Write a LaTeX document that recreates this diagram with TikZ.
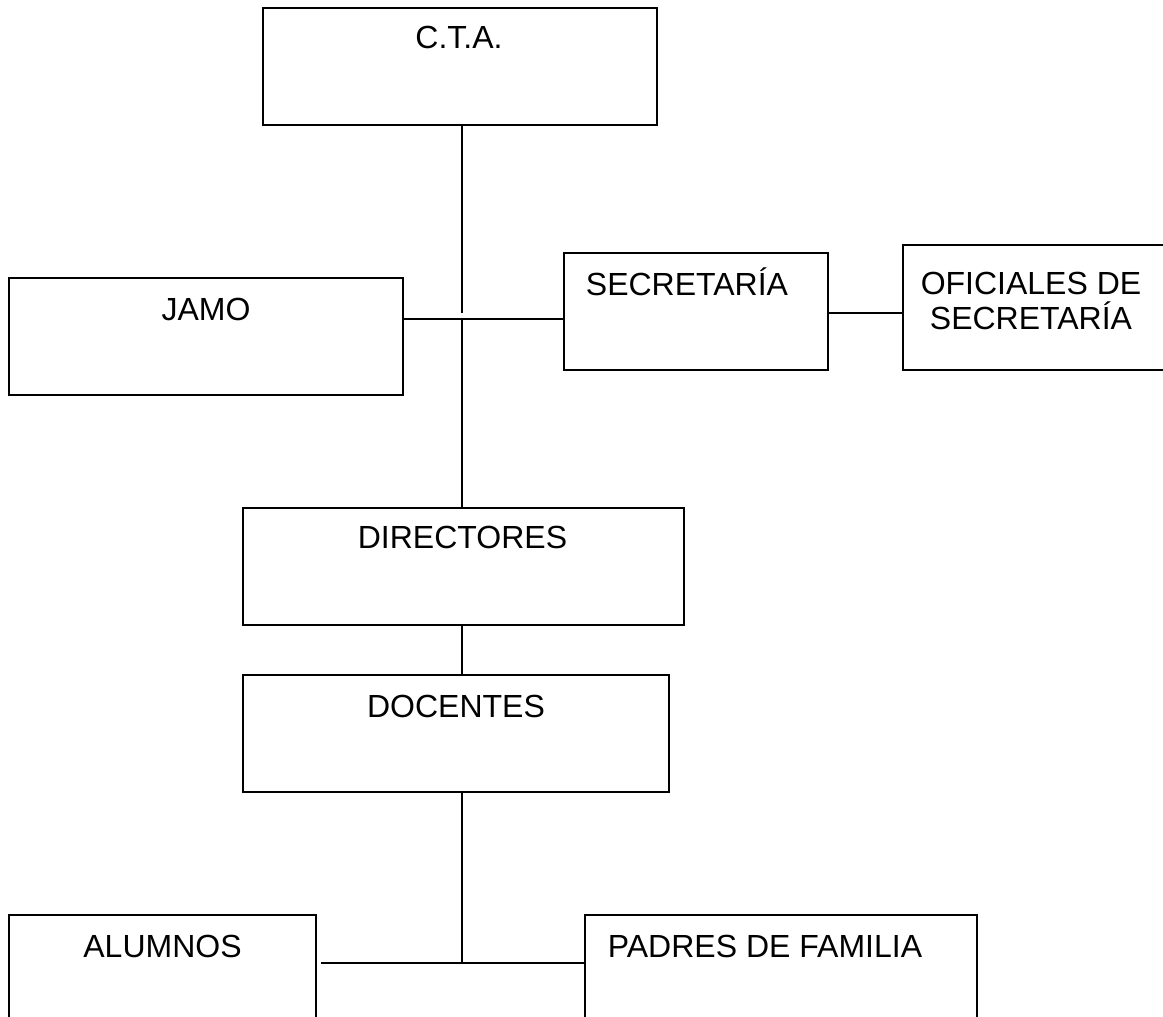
\documentclass[tikz,border=0pt]{standalone}
\usepackage{fontspec}
\setmainfont{Liberation Sans}
\begin{document}
\begin{tikzpicture}
[x=1pt, y=-1pt,
  boxdecorate/.style={shape=rectangle,draw,line width=2pt,anchor=north west,
    inner sep=0pt,outer sep=0pt},%
  labeldecorate/.style={anchor=base,inner sep=0pt,align=center,
    font=\fontsize{32}{35}\selectfont},%
  linedecorate/.style={-,line width=2pt}]
\useasboundingbox (0,0) rectangle (1163,1017);
\clip (0,0) rectangle (1163,1017);
%% boxes of the chart
\foreach \nodename/\x/\y/\w/\h in {cta/263/8/394/117, jamo/9/278/394/117,
  secretaria/564/253/264/117, oficiales/903/245/280/125,
  directores/243/508/441/117, docentes/243/675/426/117,
  alumnos/9/915/307/117, padres/585/915/392/117}
{
  \node (\nodename) at (\x,\y) [boxdecorate,minimum width=\w pt,minimum height=\h pt] {};
}
%% texts
\foreach \nodename/\dx/\dy/\name in {cta/-1/40/{C.T.A.}, jamo/0/42/JAMO,
  secretaria/-9/42/{SECRETARÍA}, oficiales/-12/84/{OFICIALES DE\\SECRETARÍA},
  directores/-1/40/DIRECTORES, docentes/0/42/DOCENTES,
  alumnos/0/42/ALUMNOS, padres/-16/42/{PADRES DE FAMILIA}}
{
  \node [labeldecorate] at ([shift={(\dx,\dy)}]\nodename.north) {\name};
}
%% junctions
\coordinate (jtop) at (462,313);
\coordinate (jmid) at (462,319);
\coordinate (jsec) at (865,313);
\coordinate (jlow) at (462,963);
%% lines
\path
\foreach \startnode/\endnode in {cta.south -| jtop/jtop,
  jamo.east |- jmid/secretaria.west |- jmid, jmid/directores.north -| jmid,
  secretaria.east |- jsec/oficiales.west |- jsec,
  directores.south -| jmid/docentes.north -| jmid,
  docentes.south -| jmid/jlow}
{
  (\startnode) edge[linedecorate] (\endnode)
};
\draw[linedecorate,shorten <=5pt] (alumnos.east |- jlow) -- (padres.west |- jlow);
\end{tikzpicture}
\end{document}
